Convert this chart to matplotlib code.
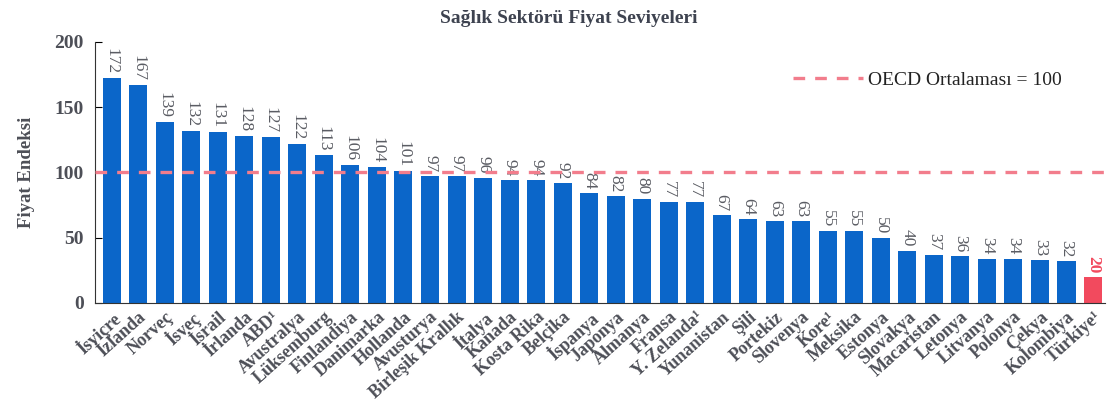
import matplotlib.pyplot as plt
from matplotlib.font_manager import FontProperties

countries = [
    "İsviçre", "İzlanda", "Norveç", "İsveç", "İsrail", "İrlanda", "ABD¹",
    "Avustralya", "Lüksemburg", "Finlandiya", "Danimarka", "Hollanda",
    "Avusturya", "Birleşik Krallık", "İtalya", "Kanada", "Kosta Rika",
    "Belçika", "İspanya", "Japonya", "Almanya", "Fransa", "Y. Zelanda¹",
    "Yunanistan", "Şili", "Portekiz", "Slovenya", "Kore¹", "Meksika",
    "Estonya", "Slovakya", "Macaristan", "Letonya", "Litvanya", "Polonya",
    "Çekya", "Kolombiya", "Türkiye¹",
]
price_index = [
    172, 167, 139, 132, 131, 128, 127, 122, 113, 106, 104, 101, 97, 97, 96,
    94, 94, 92, 84, 82, 80, 77, 77, 67, 64, 63, 63, 55, 55, 50, 40, 37, 36,
    34, 34, 33, 32, 20,
]
oecd_average = 100
highlight = "Türkiye¹"

plt.rcParams["font.family"] = ["Liberation Serif", "DejaVu Serif"]

BLUE = "#0b66c9"
RED = "#f24a5e"
PINK = "#f27d8c"
GREY = "#4d4f57"

fig = plt.figure(figsize=(11.15, 4.19), dpi=100)
ax = fig.add_axes([0.085, 0.277, 0.906, 0.623])

positions = list(range(len(countries)))
colors = [RED if c == highlight else BLUE for c in countries]
ax.bar(positions, price_index, width=0.68, color=colors, zorder=2)

for x, value, country in zip(positions, price_index, countries):
    ax.text(x, value + 3, str(value), rotation=270, ha="center", va="bottom",
            fontsize=12.5, color=RED if country == highlight else "#5a5c63",
            fontweight="bold" if country == highlight else "normal")

ax.axhline(oecd_average, color=PINK, linewidth=2.4, dashes=(3.5, 3),
           zorder=3, label="OECD Ortalaması = 100")

ax.set_xlim(-0.64, len(countries) - 0.55)
ax.set_ylim(0, 200)
ax.set_yticks([0, 50, 100, 150, 200])
ax.tick_params(axis="y", direction="in", length=5, labelsize=14,
               labelcolor=GREY, pad=8)
for label in ax.get_yticklabels():
    label.set_fontweight("bold")
ax.set_xticks(positions)
ax.set_xticklabels(countries, rotation=42, ha="right", rotation_mode="anchor",
                   fontsize=13, color=GREY, fontweight="bold")
ax.tick_params(axis="x", length=0, pad=4)

ax.spines["top"].set_visible(False)
ax.spines["right"].set_visible(False)
ax.spines["left"].set_color("#333333")
ax.spines["bottom"].set_color("#333333")

ax.set_ylabel("Fiyat Endeksi", fontsize=13.5, fontweight="bold", color=GREY,
              labelpad=14)
fig.suptitle("Sağlık Sektörü Fiyat Seviyeleri", fontsize=14,
             fontweight="bold", color="#3e4350", x=0.51, y=0.975)

legend = ax.legend(loc="center right", bbox_to_anchor=(0.975, 0.855),
                   frameon=False, prop=FontProperties(family="Liberation Serif", size=14),
                   handlelength=3.6, handletextpad=0.3)
for text in legend.get_texts():
    text.set_color("#222222")

fig.savefig("out.png", dpi=100)
